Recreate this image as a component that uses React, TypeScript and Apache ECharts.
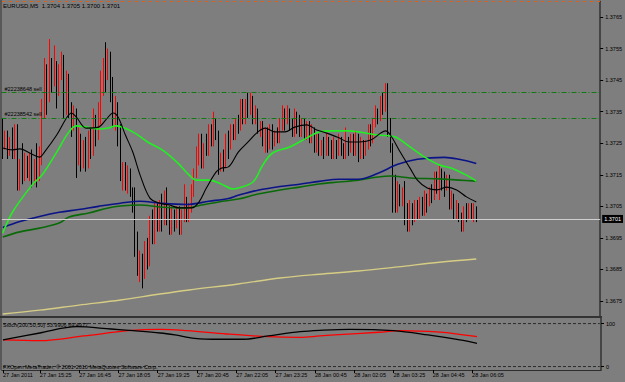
import { useEffect, useRef } from "react";
import * as echarts from "echarts";

const SLOT_COUNT = 244; // 194 bars + empty chart shift on the right

const openPrices = [
  1.3731,1.3724,1.3728,1.3722,1.3726,1.3721,1.3729,1.3712,1.3718,1.3714,
  1.3720,1.3716,1.3721,1.3714,1.3719,1.3715,1.3722,1.3736,1.3747,1.3740,
  1.3749,1.3744,1.3750,1.3742,1.3748,1.3752,1.3739,1.3746,1.3736,1.3731,
  1.3735,1.3720,1.3726,1.3719,1.3724,1.3718,1.3726,1.3722,1.3731,1.3728,
  1.3735,1.3745,1.3750,1.3747,1.3753,1.3742,1.3733,1.3737,1.3726,1.3715,
  1.3718,1.3712,1.3716,1.3710,1.3706,1.3692,1.3686,1.3689,1.3683,1.3692,
  1.3688,1.3700,1.3697,1.3704,1.3699,1.3705,1.3701,1.3708,1.3702,1.3698,
  1.3703,1.3700,1.3704,1.3698,1.3702,1.3706,1.3701,1.3704,1.3710,1.3716,
  1.3722,1.3727,1.3720,1.3724,1.3722,1.3729,1.3726,1.3731,1.3728,1.3717,
  1.3721,1.3718,1.3726,1.3724,1.3729,1.3727,1.3732,1.3730,1.3737,1.3733,
  1.3738,1.3735,1.3739,1.3733,1.3735,1.3729,1.3731,1.3726,1.3728,1.3724,
  1.3730,1.3725,1.3728,1.3726,1.3731,1.3734,1.3732,1.3735,1.3731,1.3728,
  1.3734,1.3731,1.3729,1.3732,1.3728,1.3731,1.3726,1.3729,1.3724,1.3727,
  1.3723,1.3725,1.3722,1.3726,1.3724,1.3721,1.3725,1.3722,1.3726,1.3723,
  1.3721,1.3726,1.3723,1.3727,1.3724,1.3727,1.3722,1.3725,1.3722,1.3724,
  1.3729,1.3726,1.3731,1.3735,1.3733,1.3738,1.3736,1.3740,1.3730,1.3724,
  1.3708,1.3706,1.3711,1.3707,1.3710,1.3703,1.3700,1.3705,1.3702,1.3706,
  1.3703,1.3707,1.3704,1.3708,1.3706,1.3710,1.3708,1.3714,1.3711,1.3716,
  1.3714,1.3712,1.3714,1.3706,1.3708,1.3703,1.3705,1.3701,1.3700,1.3704,
  1.3702,1.3705,1.3703,1.3704,
];

const closePrices = [
  1.3724,1.3728,1.3722,1.3726,1.3721,1.3729,1.3712,1.3718,1.3714,1.3720,
  1.3716,1.3721,1.3714,1.3719,1.3715,1.3722,1.3736,1.3747,1.3740,1.3749,
  1.3744,1.3750,1.3742,1.3748,1.3752,1.3739,1.3746,1.3736,1.3731,1.3735,
  1.3720,1.3726,1.3719,1.3724,1.3718,1.3726,1.3722,1.3731,1.3728,1.3735,
  1.3745,1.3750,1.3747,1.3753,1.3742,1.3733,1.3737,1.3726,1.3715,1.3718,
  1.3712,1.3716,1.3710,1.3706,1.3692,1.3686,1.3689,1.3683,1.3692,1.3688,
  1.3700,1.3697,1.3704,1.3699,1.3705,1.3701,1.3708,1.3702,1.3698,1.3703,
  1.3700,1.3704,1.3698,1.3702,1.3706,1.3701,1.3704,1.3710,1.3716,1.3722,
  1.3727,1.3720,1.3724,1.3722,1.3729,1.3726,1.3731,1.3728,1.3717,1.3721,
  1.3718,1.3726,1.3724,1.3729,1.3727,1.3732,1.3730,1.3737,1.3733,1.3738,
  1.3735,1.3739,1.3733,1.3735,1.3729,1.3731,1.3726,1.3728,1.3724,1.3730,
  1.3725,1.3728,1.3726,1.3731,1.3734,1.3732,1.3735,1.3731,1.3728,1.3734,
  1.3731,1.3729,1.3732,1.3728,1.3731,1.3726,1.3729,1.3724,1.3727,1.3723,
  1.3725,1.3722,1.3726,1.3724,1.3721,1.3725,1.3722,1.3726,1.3723,1.3721,
  1.3726,1.3723,1.3727,1.3724,1.3727,1.3722,1.3725,1.3722,1.3724,1.3729,
  1.3726,1.3731,1.3735,1.3733,1.3738,1.3736,1.3740,1.3730,1.3724,1.3708,
  1.3706,1.3711,1.3707,1.3710,1.3703,1.3700,1.3705,1.3702,1.3706,1.3703,
  1.3707,1.3704,1.3708,1.3706,1.3710,1.3708,1.3714,1.3711,1.3716,1.3714,
  1.3712,1.3714,1.3706,1.3708,1.3703,1.3705,1.3701,1.3700,1.3704,1.3702,
  1.3705,1.3703,1.3704,1.3701,
];

const lowPrices = [
  1.3720,1.3723,1.3720,1.3721,1.3720,1.3720,1.3710,1.3710,1.3712,1.3713,
  1.3714,1.3713,1.3711,1.3712,1.3711,1.3713,1.3718,1.3733,1.3734,1.3738,
  1.3741,1.3743,1.3736,1.3740,1.3745,1.3733,1.3734,1.3733,1.3727,1.3729,
  1.3714,1.3718,1.3716,1.3717,1.3716,1.3717,1.3720,1.3721,1.3724,1.3726,
  1.3731,1.3740,1.3741,1.3745,1.3738,1.3730,1.3729,1.3724,1.3713,1.3710,
  1.3710,1.3709,1.3708,1.3703,1.3689,1.3683,1.3681,1.3679,1.3682,1.3685,
  1.3686,1.3693,1.3693,1.3697,1.3697,1.3697,1.3699,1.3699,1.3696,1.3696,
  1.3697,1.3698,1.3696,1.3696,1.3700,1.3700,1.3700,1.3703,1.3708,1.3714,
  1.3718,1.3717,1.3717,1.3721,1.3721,1.3724,1.3724,1.3726,1.3715,1.3716,
  1.3716,1.3717,1.3720,1.3723,1.3726,1.3726,1.3728,1.3729,1.3731,1.3731,
  1.3733,1.3734,1.3731,1.3731,1.3728,1.3727,1.3724,1.3722,1.3722,1.3723,
  1.3723,1.3724,1.3725,1.3725,1.3729,1.3729,1.3731,1.3729,1.3727,1.3727,
  1.3728,1.3727,1.3727,1.3726,1.3726,1.3725,1.3725,1.3722,1.3722,1.3721,
  1.3721,1.3720,1.3721,1.3721,1.3720,1.3720,1.3720,1.3721,1.3721,1.3720,
  1.3720,1.3721,1.3722,1.3721,1.3721,1.3719,1.3720,1.3720,1.3721,1.3723,
  1.3724,1.3725,1.3730,1.3731,1.3732,1.3734,1.3735,1.3727,1.3722,1.3703,
  1.3703,1.3703,1.3705,1.3705,1.3699,1.3697,1.3697,1.3699,1.3700,1.3701,
  1.3701,1.3702,1.3702,1.3703,1.3705,1.3706,1.3707,1.3709,1.3707,1.3710,
  1.3708,1.3710,1.3704,1.3704,1.3701,1.3701,1.3700,1.3697,1.3697,1.3700,
  1.3701,1.3701,1.3700,1.3700,
];

const highPrices = [
  1.3733,1.3729,1.3729,1.3727,1.3730,1.3731,1.3731,1.3720,1.3725,1.3722,
  1.3721,1.3722,1.3723,1.3720,1.3725,1.3724,1.3739,1.3752,1.3750,1.3758,
  1.3752,1.3756,1.3751,1.3750,1.3754,1.3753,1.3748,1.3747,1.3738,1.3737,
  1.3736,1.3730,1.3728,1.3726,1.3727,1.3729,1.3730,1.3736,1.3734,1.3738,
  1.3748,1.3752,1.3757,1.3755,1.3754,1.3746,1.3740,1.3738,1.3731,1.3719,
  1.3719,1.3718,1.3717,1.3711,1.3711,1.3697,1.3691,1.3690,1.3694,1.3695,
  1.3702,1.3704,1.3706,1.3706,1.3707,1.3709,1.3710,1.3711,1.3705,1.3705,
  1.3704,1.3705,1.3705,1.3704,1.3712,1.3708,1.3706,1.3712,1.3717,1.3724,
  1.3728,1.3728,1.3725,1.3728,1.3731,1.3731,1.3735,1.3733,1.3729,1.3722,
  1.3723,1.3728,1.3729,1.3731,1.3731,1.3733,1.3734,1.3739,1.3739,1.3739,
  1.3741,1.3741,1.3740,1.3737,1.3736,1.3732,1.3732,1.3730,1.3730,1.3731,
  1.3731,1.3729,1.3730,1.3733,1.3737,1.3736,1.3737,1.3736,1.3733,1.3736,
  1.3735,1.3734,1.3733,1.3733,1.3732,1.3732,1.3731,1.3730,1.3728,1.3728,
  1.3726,1.3727,1.3728,1.3727,1.3726,1.3727,1.3726,1.3728,1.3727,1.3725,
  1.3730,1.3727,1.3728,1.3728,1.3729,1.3728,1.3727,1.3726,1.3726,1.3731,
  1.3731,1.3733,1.3737,1.3736,1.3740,1.3741,1.3744,1.3744,1.3733,1.3725,
  1.3715,1.3713,1.3712,1.3711,1.3713,1.3706,1.3707,1.3706,1.3707,1.3707,
  1.3708,1.3708,1.3710,1.3709,1.3711,1.3712,1.3716,1.3716,1.3718,1.3717,
  1.3716,1.3715,1.3715,1.3710,1.3709,1.3707,1.3706,1.3703,1.3705,1.3706,
  1.3706,1.3706,1.3706,1.3705,
];

// moving averages: [bar index, price]
const maBlack = [[0,1.37235],[4,1.37229],[7,1.37232],[11,1.37219],[15,1.37206],[17,1.37222],[22,1.37276],[26,1.3733],[28,1.37346],[30,1.37333],[34,1.37298],[39,1.37301],[42,1.37324],[45,1.37346],[47,1.37333],[50,1.37276],[53,1.37222],[56,1.37149],[60,1.37076],[64,1.3706],[68,1.37054],[72,1.37045],[77,1.37045],[80,1.37064],[83,1.37108],[87,1.37159],[89,1.37171],[92,1.37175],[96,1.37222],[100,1.37254],[104,1.37286],[107,1.37298],[111,1.37286],[115,1.37286],[119,1.37301],[124,1.37308],[128,1.37292],[132,1.37282],[137,1.37267],[141,1.37254],[145,1.37254],[150,1.3726],[154,1.37282],[156,1.37289],[158,1.37276],[162,1.37222],[166,1.37171],[169,1.37133],[173,1.37108],[177,1.37102],[181,1.37111],[185,1.37102],[189,1.3708],[193,1.37064]];
const maLime = [[0,1.36965],[4,1.37032],[12,1.37118],[16,1.37149],[22,1.37222],[27,1.37286],[30,1.37305],[34,1.37301],[39,1.37295],[43,1.37298],[46,1.37305],[53,1.37286],[59,1.37254],[65,1.37229],[71,1.3719],[76,1.37149],[79,1.37133],[84,1.37133],[89,1.37121],[94,1.37105],[96,1.37108],[102,1.37127],[106,1.37181],[110,1.37219],[117,1.37238],[124,1.37267],[129,1.37286],[134,1.37289],[141,1.37289],[145,1.37286],[153,1.37276],[160,1.3727],[165,1.37244],[172,1.37206],[178,1.37181],[183,1.37171],[189,1.37149],[193,1.3713]];
const maNavy = [[0,1.36983],[7,1.37002],[15,1.37018],[23,1.37031],[31,1.3704],[39,1.3705],[48,1.3706],[56,1.37066],[64,1.3706],[75,1.37056],[84,1.37066],[92,1.37075],[96,1.37085],[104,1.37101],[113,1.37113],[121,1.3712],[129,1.37129],[137,1.37136],[145,1.37136],[153,1.37155],[161,1.37183],[169,1.37199],[180,1.37205],[186,1.37199],[193,1.37186]];
const maGreen = [[0,1.36953],[7,1.36969],[15,1.36981],[23,1.36997],[27,1.37016],[35,1.37029],[43,1.37045],[48,1.37051],[56,1.37054],[64,1.37048],[75,1.37045],[81,1.37054],[88,1.37064],[96,1.37073],[104,1.37089],[113,1.37102],[121,1.37111],[129,1.37121],[137,1.37127],[145,1.37133],[153,1.37143],[158,1.37146],[166,1.3714],[178,1.37137],[186,1.37133],[193,1.3713]];
const maKhaki = [[0,1.36709],[15,1.36721],[31,1.36737],[48,1.36753],[64,1.36772],[76,1.36785],[96,1.36804],[113,1.36823],[129,1.36835],[145,1.36845],[161,1.36858],[178,1.36873],[193,1.36883]];

// Stochastic (200,50,50): [bar index, value]
const stochMain = [[0,61.9],[15,78.1],[30,92.8],[44,87.4],[53,83.5],[64,78.1],[70,73.5],[78,65.8],[88,63.5],[98,63.5],[108,71.2],[121,81.2],[129,84.4],[141,86.7],[159,83.5],[173,73.5],[186,61.9],[193,53.99]];
const stochSignal = [[0,61.9],[15,60.2],[33,71.2],[51,83.5],[64,86.7],[75,83.5],[91,75.8],[108,69.5],[121,68.1],[129,71.2],[135,73.5],[153,79.8],[162,83.5],[178,80.0],[186,75.0],[193,69.5]];

const timeTickBars = [0, 15, 31, 47, 63, 79, 95, 111, 127, 143, 159, 175, 191];
const timeTickLabels = ["27 Jan 2011", "27 Jan 15:25", "27 Jan 16:45", "27 Jan 18:05", "27 Jan 19:25", "27 Jan 20:45", "27 Jan 22:05", "27 Jan 23:25", "28 Jan 00:45", "28 Jan 02:05", "28 Jan 03:25", "28 Jan 04:45", "28 Jan 06:05"];
const priceTicks = [1.3765, 1.3755, 1.3745, 1.3735, 1.3725, 1.3715, 1.3705, 1.3695, 1.3685, 1.3675];
const stochTicks = [100, 0];
const orderLabels = ["#22238648 sell", "#22238542 sell"];
const orderPrices = [1.3741, 1.3733];
const bidPrice = 1.3701;

const FONT = '"Liberation Sans", Arial, sans-serif';

export default function App() {
  const ref = useRef<HTMLDivElement>(null);
  useEffect(() => {
    const chart = echarts.init(ref.current as HTMLDivElement, null, { renderer: "svg" });
    const cats = Array.from({ length: SLOT_COUNT }, (_, i) => String(i));
    const ohlc = openPrices.map((o, i) => [o, closePrices[i], lowPrices[i], highPrices[i]]);
    const last = openPrices.length - 1;
    const txt = { fontFamily: FONT, fontSize: 5.5, color: "#000" };
    const line = (data: number[][], color: string, width: number, grid = 0, smooth: number | boolean = 0.35) => ({
      type: "line",
      xAxisIndex: grid,
      yAxisIndex: grid,
      data,
      smooth,
      symbol: "none",
      showSymbol: false,
      silent: true,
      z: 4,
      lineStyle: { color, width },
    });
    const levelLine = (v: number) => ({
      type: "line",
      xAxisIndex: 1,
      yAxisIndex: 1,
      data: [[0, v], [SLOT_COUNT - 1, v]],
      symbol: "none",
      showSymbol: false,
      silent: true,
      z: 2,
      lineStyle: { color: "#2a2a2a", type: [3, 2], width: 1 },
    });

    chart.setOption({
      animation: false,
      backgroundColor: "#7e7e7e",
      grid: [
        { left: 1.5, right: 24, top: 1.22, height: 315.56 },
        { left: 1.5, right: 24, top: 318, bottom: 12 },
      ],
      xAxis: [
        { type: "category", gridIndex: 0, data: cats, boundaryGap: true, show: false },
        {
          type: "category",
          gridIndex: 1,
          data: cats,
          boundaryGap: true,
          axisLine: { show: true, onZero: false, lineStyle: { color: "#2e2e2e", width: 1 } },
          axisTick: {
            show: true,
            alignWithLabel: true,
            length: 3,
            interval: (i: number) => timeTickBars.includes(i),
            lineStyle: { color: "#000" },
          },
          axisLabel: {
            interval: (i: number) => timeTickBars.includes(i),
            formatter: (v: string) => {
              const k = timeTickBars.indexOf(Number(v));
              return k >= 0 ? timeTickLabels[k] : "";
            },
            align: "left",
            margin: 2,
            ...txt,
          },
        },
      ],
      yAxis: [
        {
          type: "value",
          gridIndex: 0,
          position: "right",
          min: 1.367,
          max: 1.377,
          splitLine: { show: false },
          axisLine: { show: true, lineStyle: { color: "#333", width: 1.5 } },
          axisTick: { show: true, customValues: priceTicks, length: 3, lineStyle: { color: "#000" } },
          axisLabel: { customValues: priceTicks, formatter: (v: number) => v.toFixed(4), margin: 5, ...txt },
        },
        {
          type: "value",
          gridIndex: 1,
          position: "right",
          min: -8,
          max: 113,
          splitLine: { show: false },
          axisLine: { show: true, lineStyle: { color: "#333", width: 1.5 } },
          axisTick: { show: true, customValues: stochTicks, length: 3, lineStyle: { color: "#000" } },
          axisLabel: { customValues: stochTicks, formatter: (v: number) => String(v), margin: 5, ...txt },
        },
      ],
      series: [
        {
          type: "candlestick",
          xAxisIndex: 0,
          yAxisIndex: 0,
          data: ohlc,
          barWidth: 1,
          z: 3,
          silent: true,
          itemStyle: {
            color: "#ff0000",
            color0: "#000000",
            borderColor: "#ff0000",
            borderColor0: "#000000",
            borderWidth: 1,
          },
        },
        {
          ...line(maKhaki, "#d6cd84", 1.4),
          markLine: {
            silent: true,
            precision: 6,
            symbol: ["none", "none"],
            data: [
              ...orderPrices.map((p, k) => ({
                yAxis: p,
                lineStyle: { color: "#127a12", type: [5, 2, 1, 2], width: 1 },
                label: { show: true, position: "insideStartTop", formatter: orderLabels[k], distance: [3, 1], ...txt },
              })),
              {
                yAxis: bidPrice,
                lineStyle: { color: "#cfcfcf", type: "solid", width: 1 },
                label: {
                  show: true,
                  position: "end",
                  formatter: bidPrice.toFixed(4),
                  color: "#fff",
                  backgroundColor: "#000",
                  padding: [1, 2],
                  fontSize: 5.5,
                  fontFamily: FONT,
                  distance: 2,
                },
              },
            ],
          },
        },
        line(maGreen, "#0a6a0a", 1.6),
        line(maNavy, "#0b1486", 1.6),
        line(maLime, "#22f022", 1.6),
        line(maBlack, "#000000", 1.1),
        ...stochTicks.map((v) => levelLine(v)),
        line(stochSignal, "#ff0000", 1.3, 1),
        line(stochMain, "#000000", 1.3, 1),
      ],
      graphic: [
        { type: "rect", z: 10, silent: true, shape: { x: 0, y: 316, width: 602, height: 2 }, style: { fill: "#333" } },
        { type: "line", z: 10, silent: true, shape: { x1: 1, y1: 0, x2: 1, y2: 370 }, style: { stroke: "#333", lineWidth: 1 } },
        { type: "line", z: 10, silent: true, shape: { x1: 2, y1: 1.5, x2: 600, y2: 1.5 }, style: { stroke: "#e0601a", lineWidth: 1, lineDash: [3, 4] } },
        {
          type: "text", z: 10, silent: true, x: 3, y: 6,
          style: {
            text: `EURUSD,M5  ${openPrices[last].toFixed(4)} ${highPrices[last].toFixed(4)} ${lowPrices[last].toFixed(4)} ${closePrices[last].toFixed(4)}`,
            fill: "#000", fontSize: 6, fontFamily: FONT, verticalAlign: "middle",
          },
        },
        {
          type: "text", z: 10, silent: true, x: 3, y: 324.5,
          style: { text: "Stoch(200,50,50) 53.9906 69.4977", fill: "#000", fontSize: 5.5, fontFamily: FONT, verticalAlign: "middle" },
        },
        {
          type: "text", z: 10, silent: true, x: 3, y: 366.5,
          style: { text: "FXOpen MetaTrader, © 2001-2010 MetaQuotes Software Corp.", fill: "#000", fontSize: 5.5, fontFamily: FONT, verticalAlign: "middle" },
        },
      ],
    });
    return () => chart.dispose();
  }, []);
  return <div ref={ref} style={{ position: "fixed", left: 0, top: 0, width: 625, height: 382 }} />;
}
